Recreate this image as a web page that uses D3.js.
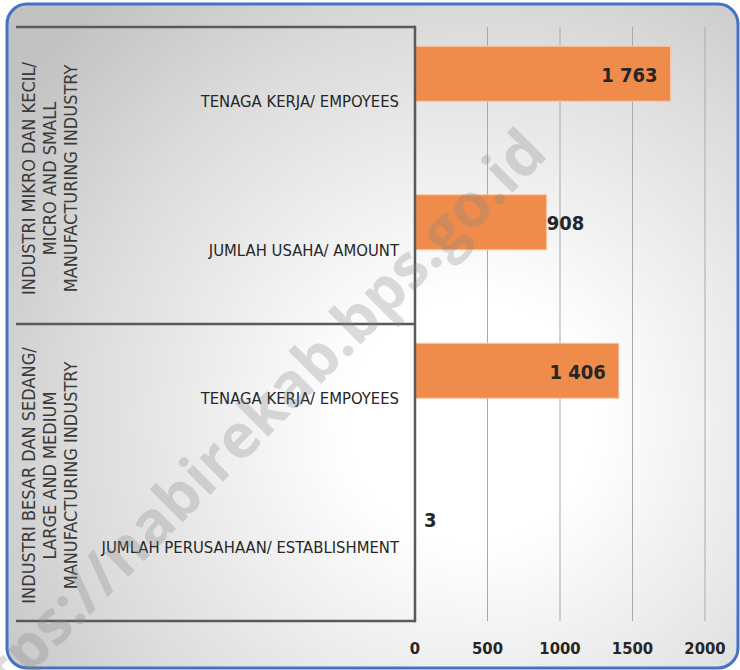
<!DOCTYPE html>
<html>
<head>
<meta charset="utf-8">
<script src="https://cdn.jsdelivr.net/npm/d3@7"></script>
<style>
  html, body { margin: 0; padding: 0; background: #fff; }
  svg { display: block; }
  text { font-family: 'Liberation Sans Narrow', 'DejaVu Sans Condensed', 'Open Sans', sans-serif; }
</style>
</head>
<body>
<svg id="chart" width="740" height="670"></svg>
<script>
// data ------------------------------
const groups = [
  ['INDUSTRI MIKRO DAN KECIL/', 'MICRO AND SMALL', 'MANUFACTURING INDUSTRY'],
  ['INDUSTRI BESAR DAN SEDANG/', 'LARGE AND MEDIUM', 'MANUFACTURING INDUSTRY']
]
const categories = [
  'TENAGA KERJA/ EMPOYEES',
  'JUMLAH USAHA/ AMOUNT',
  'TENAGA KERJA/ EMPOYEES',
  'JUMLAH PERUSAHAAN/ ESTABLISHMENT'
]
const values = [1763, 908, 1406, 3]
const tickValues = [0, 500, 1000, 1500, 2000]

const fmt = (v) => d3.format(',')(v).replace(/,/g, ' ')

function draw() {
  const svg = d3.select('#chart')

  // background + frame
  const defs = svg.append('defs')
  const grad = defs.append('radialGradient')
    .attr('id', 'bg')
    .attr('gradientUnits', 'userSpaceOnUse')
    .attr('cx', 470).attr('cy', 420).attr('r', 560)
  grad.append('stop').attr('offset', '0%').attr('stop-color', '#ffffff')
  grad.append('stop').attr('offset', '22%').attr('stop-color', '#ffffff')
  grad.append('stop').attr('offset', '70%').attr('stop-color', '#dcdcdc')
  grad.append('stop').attr('offset', '100%').attr('stop-color', '#c2c2c2')

  svg.append('rect')
    .attr('x', 7).attr('y', 4)
    .attr('width', 731).attr('height', 664)
    .attr('rx', 20).attr('ry', 20)
    .attr('fill', 'url(#bg)')
    .attr('stroke', '#4472c4')
    .attr('stroke-width', 3)

  const top = 27
  const bottom = 621
  const x0 = 415
  const tableLeft = 16

  const x = d3.scaleLinear().domain([0, 2000]).range([x0, 705])

  const y = d3.scaleBand()
    .domain(d3.range(categories.length))
    .range([top, bottom])
    .padding(0)

  // two series per slot, second one is empty (Excel clustered layout)
  const ySub = d3.scaleBand()
    .domain(['shown', 'hidden'])
    .range([0, y.bandwidth()])
    .paddingInner(0)
    .paddingOuter(0.35)

  const groupY = d3.scaleBand()
    .domain(d3.range(groups.length))
    .range([top, bottom])

  // gridlines
  svg.append('g')
    .selectAll('line')
    .data(tickValues.filter((d) => d > 0))
    .join('line')
    .attr('x1', (d) => x(d)).attr('x2', (d) => x(d))
    .attr('y1', top).attr('y2', bottom)
    .attr('stroke', '#a9a9a9')
    .attr('stroke-width', 1)

  // bars
  svg.append('g')
    .selectAll('rect')
    .data(values)
    .join('rect')
    .attr('x', x(0))
    .attr('y', (d, i) => y(i) + ySub('shown'))
    .attr('width', (d) => x(d) - x(0))
    .attr('height', ySub.bandwidth())
    .attr('fill', '#ef8c4b')
    .attr('stroke', '#f8c9a8')
    .attr('stroke-width', 1)

  // table lines
  const table = svg.append('g').attr('stroke', '#5a5a5a').attr('stroke-width', 2.5)
  table.selectAll('line.h')
    .data(d3.range(groups.length + 1))
    .join('line')
    .attr('class', 'h')
    .attr('x1', tableLeft).attr('x2', x0)
    .attr('y1', (d) => d < groups.length ? groupY(d) : bottom)
    .attr('y2', (d) => d < groups.length ? groupY(d) : bottom)
  table.append('line')
    .attr('x1', x0).attr('x2', x0)
    .attr('y1', top - 1.25).attr('y2', bottom + 1.25)

  // category labels
  svg.append('g')
    .selectAll('text')
    .data(categories)
    .join('text')
    .attr('x', 399)
    .attr('y', (d, i) => y(i) + y.bandwidth() / 2)
    .attr('dy', '0.35em')
    .attr('text-anchor', 'end')
    .attr('font-size', 16.5)
    .attr('fill', '#262626')
    .text((d) => d)

  // group labels (rotated)
  const gl = svg.append('g')
    .selectAll('g')
    .data(groups)
    .join('g')
    .attr('transform', (d, i) => `translate(50, ${groupY(i) + groupY.bandwidth() / 2 + 3}) rotate(-90)`)
  gl.selectAll('text')
    .data((d) => d)
    .join('text')
    .attr('x', 0)
    .attr('y', (d, i) => (i - 1) * 21)
    .attr('dy', '0.35em')
    .attr('text-anchor', 'middle')
    .attr('font-size', 18)
    .attr('fill', '#3a3a3a')
    .text((d) => d)

  // value labels
  svg.append('g')
    .selectAll('text')
    .data(values)
    .join('text')
    .each(function (d, i) {
      const inside = x(d) - x(0) > 100 && i !== 1
      d3.select(this)
        .attr('x', inside ? x(d) - 13 : Math.max(x(d), x(0) + 9))
        .attr('text-anchor', inside ? 'end' : 'start')
    })
    .attr('y', (d, i) => y(i) + ySub('shown') + ySub.bandwidth() / 2 + 1)
    .attr('dy', '0.35em')
    .attr('font-size', 20)
    .attr('font-weight', 'bold')
    .attr('fill', '#262626')
    .text((d) => fmt(d))

  // x tick labels
  svg.append('g')
    .selectAll('text')
    .data(tickValues)
    .join('text')
    .attr('x', (d) => x(d))
    .attr('y', 648)
    .attr('dy', '0.35em')
    .attr('text-anchor', 'middle')
    .attr('font-size', 16.5)
    .attr('font-weight', 'bold')
    .attr('fill', '#262626')
    .text((d) => d)

  // watermark (runs off the frame, as in the original)
  svg.append('text')
    .attr('transform', 'translate(243, 436) rotate(-45)')
    .attr('text-anchor', 'middle')
    .attr('dy', '0.3em')
    .attr('font-weight', 'bold')
    .attr('font-size', 61)
    .attr('fill', '#808080')
    .attr('fill-opacity', 0.28)
    .style('font-family', "'Open Sans', sans-serif")
    .text('https://nabirekab.bps.go.id')
}

draw()
</script>
</body>
</html>
